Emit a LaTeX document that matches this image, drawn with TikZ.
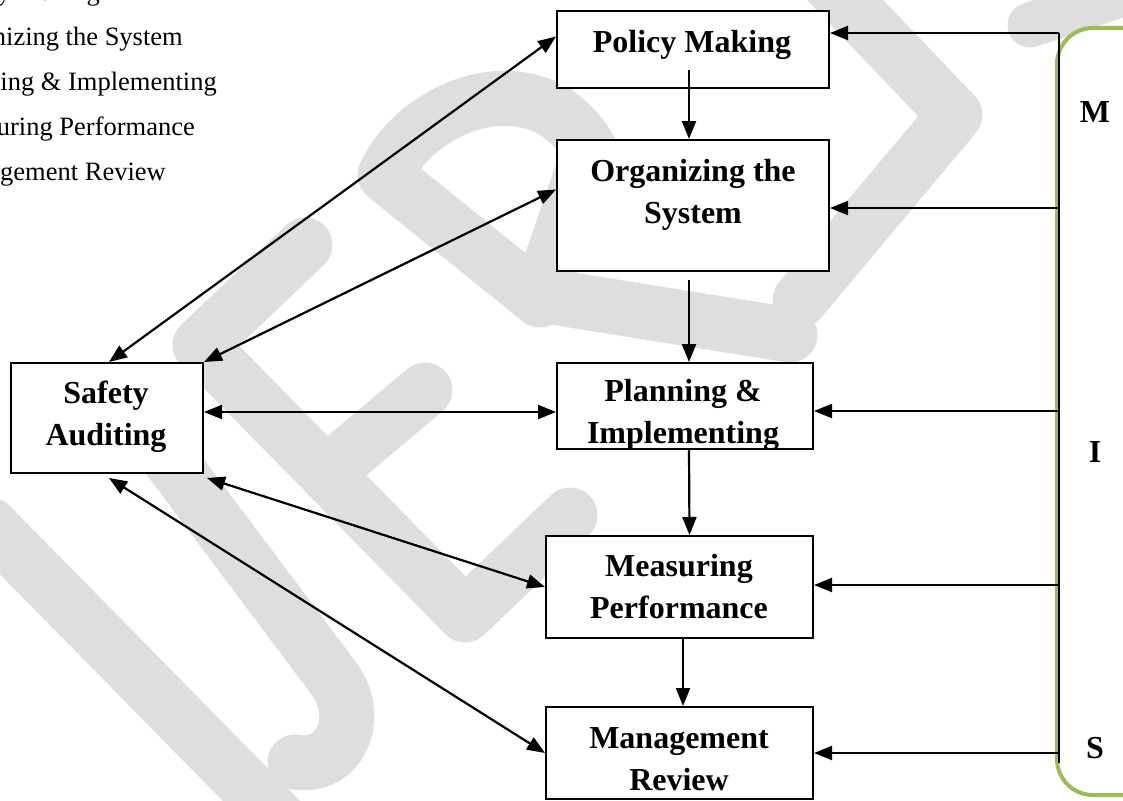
\documentclass[tikz,border=0pt]{standalone}
\usepackage{fontspec}
\setmainfont{Liberation Serif}
\usetikzlibrary{arrows.meta}
\definecolor{wm}{RGB}{222,222,222}
\definecolor{grn}{RGB}{155,187,89}
\begin{document}
\begin{tikzpicture}[x=1pt,y=-1pt,
  box/.style={draw,fill=white,line width=2pt,inner sep=0pt,anchor=north west},
  lbl/.style={font=\fontsize{32}{42}\selectfont\bfseries,align=center,inner sep=0pt},
  lst/.style={font=\fontsize{26.5}{30}\selectfont,anchor=base east,inner sep=0pt},
  arr/.style={line width=2.2pt,-{Triangle[length=18pt,width=14pt]}},
  dbl/.style={line width=2.2pt,{Triangle[length=18pt,width=14pt]}-{Triangle[length=18pt,width=14pt]}},
  wmk/.style={draw=wm,line width=55pt,line cap=round,line join=round},
  side/.style={font=\fontsize{32}{36}\selectfont\bfseries,inner sep=0pt}]
\useasboundingbox (0,0) rectangle (1123,800);
\clip (0,0) rectangle (1123,800);
% watermark
\draw[wmk] (-10,525) -- (290,830);
\draw[wmk] (140,420) -- (335,680) .. controls (362,718) and (340,770) .. (295,762);
\draw[wmk] (305,245) -- (200,345) -- (465,615) -- (570,515);
\draw[wmk] (330,470) -- (425,390);
\draw[wmk] (540,300) -- (385,175) .. controls (420,100) and (540,60) .. (590,150) -- (540,295) -- (790,335);
\draw[wmk] (826,-20) -- (955,115) -- (800,300);
\draw[wmk,line width=45pt] (1030,25) -- (1150,-15);
% list
\node[lst] (l1) at (100,0.5) {Policy Making};
\node[lst] (l2) at (183,45.5) {Organizing the System};
\node[lst] (l3) at (217,90) {Planning \& Implementing};
\node[lst] (l4) at (195,135) {Measuring Performance};
\node[lst] (l5) at (166,180) {Management Review};
% boxes
\node[box,minimum width=272pt,minimum height=77pt] (pm) at (556,10) {};
\node[box,minimum width=272pt,minimum height=131pt] (os) at (556,139) {};
\node[box,minimum width=256pt,minimum height=86pt] (pi) at (556,362) {};
\node[box,minimum width=267pt,minimum height=102pt] (ms) at (545,535) {};
\node[box,minimum width=267pt,minimum height=92pt] (mr) at (545,706) {};
\node[box,minimum width=192pt,minimum height=110pt] (sa) at (10,362) {};
% labels
\node[lbl] (tpm) at (692,45) {Policy Making};
\node[lbl] (tos) at (693,195) {Organizing the\\System};
\node[lbl] (tpi) at (683,415) {Planning \&\\Implementing};
\node[lbl] (tms) at (679,587) {Measuring\\Performance};
\node[lbl] (tmr) at (679,759) {Management\\Review};
\node[lbl] (tsa) at (106,417) {Safety\\Auditing};
% vertical arrows
\draw[arr] ([xshift=-4pt,yshift=19pt]pm.south) -- ([xshift=-4pt]os.north);
\draw[arr] ([xshift=-4pt,yshift=-8pt]os.south) -- ([xshift=4pt]pi.north);
\draw[arr] ([xshift=4pt]pi.south) -- ([xshift=10pt]ms.north);
\draw[arr] ([xshift=3.5pt]ms.south) -- ([xshift=3.5pt]mr.north);
% safety arrows
\draw[dbl] ([xshift=2pt]sa.north) -- ([yshift=13pt]pm.west);
\draw[dbl] (sa.north east) -- ([yshift=16pt]os.west);
\draw[dbl] ([yshift=6pt]sa.east) -- ([yshift=-6pt]pi.west);
\draw[dbl] ([xshift=3pt,yshift=-4pt]sa.south east) -- (ms.west);
\draw[dbl] ([xshift=2pt,yshift=-4pt]sa.south) -- (mr.west);
% right side
\draw[grn,line width=4pt,rounded corners=36pt] (1057,28) rectangle (1170,795);
\coordinate (r1) at (1059,33);
\coordinate (r2) at (1059,208);
\coordinate (r3) at (1059,411);
\coordinate (r4) at (1059,585);
\coordinate (r5) at (1059,753);
\coordinate (rb) at (1059,763);
\draw[line width=2.2pt] (r1) -- (rb);
\draw[arr] (r1) -- (r1 -| pm.east);
\draw[arr] (r2) -- (r2 -| os.east);
\draw[arr] (r3) -- (r3 -| pi.east);
\draw[arr] (r4) -- (r4 -| ms.east);
\draw[arr] (r5) -- (r5 -| mr.east);
\node[side] (sm) at (1095,112) {M};
\node[side] (si) at (1095,452) {I};
\node[side] (ss) at (1095,748) {S};
\end{tikzpicture}
\end{document}
